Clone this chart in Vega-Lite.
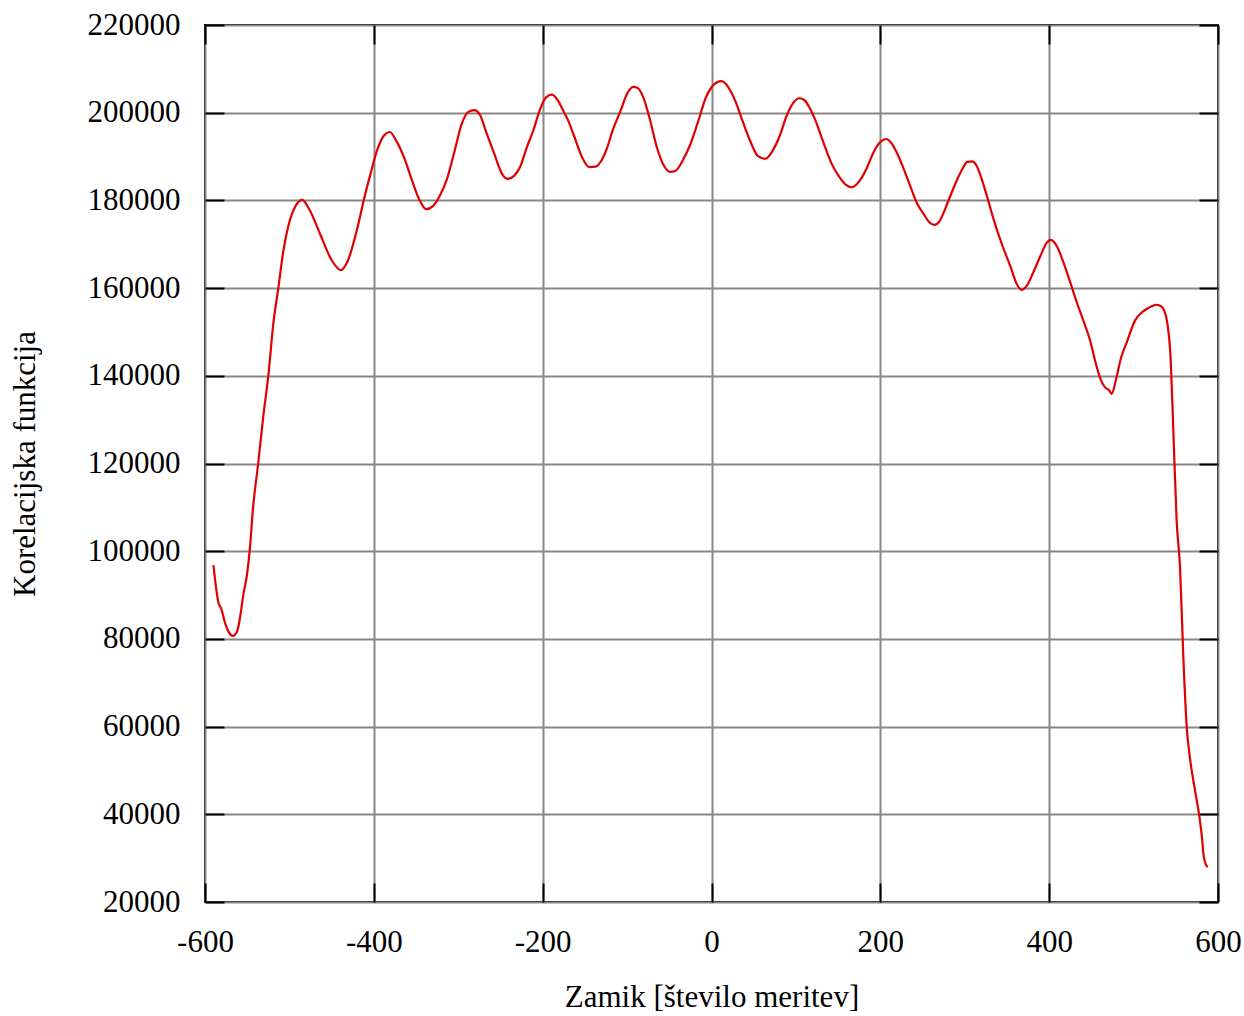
{
  "$schema": "https://vega.github.io/schema/vega-lite/v6.json",
  "autosize": "none",
  "width": 1013,
  "height": 877,
  "padding": {"left": 205, "top": 25, "right": 26, "bottom": 114},
  "background": "white",
  "config": {
    "view": {"stroke": "black", "strokeWidth": 2},
    "font": "Liberation Serif",
    "axis": {
      "labelFont": "Liberation Serif",
      "titleFont": "Liberation Serif",
      "labelFontSize": 31,
      "titleFontSize": 31,
      "labelColor": "black",
      "titleColor": "black",
      "titleFontWeight": "normal",
      "labelFlush": false,
      "labelOverlap": false,
      "domain": false,
      "tickColor": "black",
      "tickWidth": 2,
      "tickSize": -19,
      "gridColor": "#888888",
      "gridWidth": 2,
      "gridOpacity": 1
    }
  },
  "data": {"values": [
    {"x": -590, "y": 96800}, {"x": -584, "y": 88200}, {"x": -581, "y": 87000}, {"x": -576, "y": 83500},
    {"x": -572, "y": 81600}, {"x": -567, "y": 80700}, {"x": -562, "y": 81700}, {"x": -558, "y": 85500},
    {"x": -555, "y": 89600}, {"x": -550, "y": 95000}, {"x": -547, "y": 100300}, {"x": -543, "y": 110100},
    {"x": -537, "y": 120000}, {"x": -531, "y": 130700}, {"x": -525, "y": 140000}, {"x": -519, "y": 152000},
    {"x": -513, "y": 160200}, {"x": -507, "y": 168700}, {"x": -501, "y": 174400}, {"x": -493, "y": 178600},
    {"x": -485, "y": 180100}, {"x": -476, "y": 177800}, {"x": -464, "y": 172500}, {"x": -450, "y": 166400},
    {"x": -439, "y": 164100}, {"x": -432, "y": 165700}, {"x": -420, "y": 173300}, {"x": -410, "y": 181600},
    {"x": -404, "y": 186000}, {"x": -396, "y": 191500}, {"x": -388, "y": 194800}, {"x": -381, "y": 195600},
    {"x": -374, "y": 193800}, {"x": -364, "y": 189700}, {"x": -355, "y": 184700}, {"x": -346, "y": 180100},
    {"x": -338, "y": 178000}, {"x": -330, "y": 178700}, {"x": -322, "y": 181000}, {"x": -313, "y": 185100},
    {"x": -304, "y": 191500}, {"x": -296, "y": 197400}, {"x": -288, "y": 200200}, {"x": -281, "y": 200600},
    {"x": -274, "y": 199400}, {"x": -267, "y": 195600}, {"x": -258, "y": 191000}, {"x": -248, "y": 186000},
    {"x": -241, "y": 184900}, {"x": -234, "y": 185600}, {"x": -227, "y": 187500}, {"x": -219, "y": 192000},
    {"x": -211, "y": 196000}, {"x": -203, "y": 200800}, {"x": -196, "y": 203500}, {"x": -189, "y": 204100},
    {"x": -182, "y": 202800}, {"x": -176, "y": 200600}, {"x": -170, "y": 198300}, {"x": -163, "y": 194800},
    {"x": -153, "y": 189700}, {"x": -145, "y": 187600}, {"x": -137, "y": 187700}, {"x": -130, "y": 189200},
    {"x": -124, "y": 191800}, {"x": -117, "y": 196000}, {"x": -108, "y": 200300}, {"x": -100, "y": 204300},
    {"x": -93, "y": 205900}, {"x": -88, "y": 205700}, {"x": -81, "y": 203600}, {"x": -73, "y": 198500},
    {"x": -65, "y": 192300}, {"x": -56, "y": 187800}, {"x": -49, "y": 186500}, {"x": -43, "y": 186700},
    {"x": -33, "y": 189500}, {"x": -25, "y": 192800}, {"x": -15, "y": 198500}, {"x": -7, "y": 203300},
    {"x": 0, "y": 205800}, {"x": 6, "y": 206900}, {"x": 12, "y": 207200}, {"x": 20, "y": 205800},
    {"x": 29, "y": 202300}, {"x": 37, "y": 198000}, {"x": 46, "y": 193500}, {"x": 55, "y": 190100},
    {"x": 64, "y": 189500}, {"x": 72, "y": 191200}, {"x": 81, "y": 194800}, {"x": 89, "y": 199300},
    {"x": 97, "y": 202300}, {"x": 104, "y": 203300}, {"x": 110, "y": 202900}, {"x": 116, "y": 201200},
    {"x": 123, "y": 198300}, {"x": 132, "y": 193500}, {"x": 142, "y": 188500}, {"x": 151, "y": 185500},
    {"x": 159, "y": 183600}, {"x": 166, "y": 183000}, {"x": 172, "y": 183700}, {"x": 178, "y": 185200},
    {"x": 184, "y": 187400}, {"x": 192, "y": 191000}, {"x": 200, "y": 193300}, {"x": 207, "y": 194000},
    {"x": 213, "y": 193100}, {"x": 220, "y": 190700}, {"x": 226, "y": 188000}, {"x": 235, "y": 183500},
    {"x": 243, "y": 179500}, {"x": 251, "y": 177000}, {"x": 258, "y": 175000}, {"x": 264, "y": 174400},
    {"x": 270, "y": 175200}, {"x": 275, "y": 177200}, {"x": 281, "y": 180100}, {"x": 290, "y": 184300},
    {"x": 297, "y": 187100}, {"x": 303, "y": 188800}, {"x": 309, "y": 188900}, {"x": 314, "y": 187900},
    {"x": 319, "y": 185500}, {"x": 326, "y": 181200}, {"x": 334, "y": 175800}, {"x": 344, "y": 170000},
    {"x": 354, "y": 165000}, {"x": 361, "y": 161200}, {"x": 367, "y": 159600}, {"x": 374, "y": 160700},
    {"x": 381, "y": 163500}, {"x": 390, "y": 167500}, {"x": 397, "y": 170300}, {"x": 402, "y": 171000},
    {"x": 409, "y": 169600}, {"x": 417, "y": 165800}, {"x": 425, "y": 161300}, {"x": 433, "y": 156600},
    {"x": 442, "y": 151800}, {"x": 448, "y": 148400}, {"x": 455, "y": 143000}, {"x": 461, "y": 139200},
    {"x": 466, "y": 137400}, {"x": 471, "y": 136700}, {"x": 474, "y": 135900}, {"x": 479, "y": 139000},
    {"x": 485, "y": 144000}, {"x": 492, "y": 147700}, {"x": 502, "y": 152700}, {"x": 510, "y": 154500},
    {"x": 516, "y": 155300}, {"x": 522, "y": 155900}, {"x": 527, "y": 156200}, {"x": 532, "y": 155900},
    {"x": 536, "y": 155000}, {"x": 540, "y": 152000}, {"x": 544, "y": 143500}, {"x": 547, "y": 128000},
    {"x": 551, "y": 107000}, {"x": 555, "y": 96400}, {"x": 559, "y": 75500}, {"x": 563, "y": 59800},
    {"x": 567, "y": 52500}, {"x": 573, "y": 45200}, {"x": 578, "y": 39400}, {"x": 581, "y": 34700},
    {"x": 583, "y": 30500}, {"x": 586, "y": 28400}, {"x": 588, "y": 28000}
  ]},
  "layer": [
    {
      "mark": {"type": "line", "color": "#e00000", "strokeWidth": 2.2, "interpolate": "monotone"},
      "encoding": {
        "x": {"field": "x", "type": "quantitative",
          "scale": {"domain": [-600, 600], "nice": false, "zero": false},
          "axis": {"orient": "bottom", "title": "Zamik [število meritev]", "values": [-600, -400, -200, 0, 200, 400, 600],
            "labelPadding": 44, "titlePadding": 25, "grid": true, "labelExpr": "'' + datum.value"}},
        "y": {"field": "y", "type": "quantitative",
          "scale": {"domain": [20000, 220000], "nice": false, "zero": false},
          "axis": {"orient": "left", "title": "Korelacijska funkcija", "values": [20000, 40000, 60000, 80000, 100000, 120000, 140000, 160000, 180000, 200000, 220000],
            "labelPadding": 44, "titlePadding": 46, "grid": true, "labelExpr": "'' + datum.value"}}
      }
    },
    {
      "mark": {"type": "line", "opacity": 0},
      "encoding": {
        "x": {"field": "x", "type": "quantitative",
          "scale": {"domain": [-600, 600], "nice": false, "zero": false},
          "axis": {"orient": "top", "title": null, "labels": false, "grid": false, "values": [-600, -400, -200, 0, 200, 400, 600]}},
        "y": {"field": "y", "type": "quantitative",
          "scale": {"domain": [20000, 220000], "nice": false, "zero": false},
          "axis": {"orient": "right", "title": null, "labels": false, "grid": false, "values": [20000, 40000, 60000, 80000, 100000, 120000, 140000, 160000, 180000, 200000, 220000]}}
      }
    }
  ],
  "resolve": {"axis": {"x": "independent", "y": "independent"}}
}
